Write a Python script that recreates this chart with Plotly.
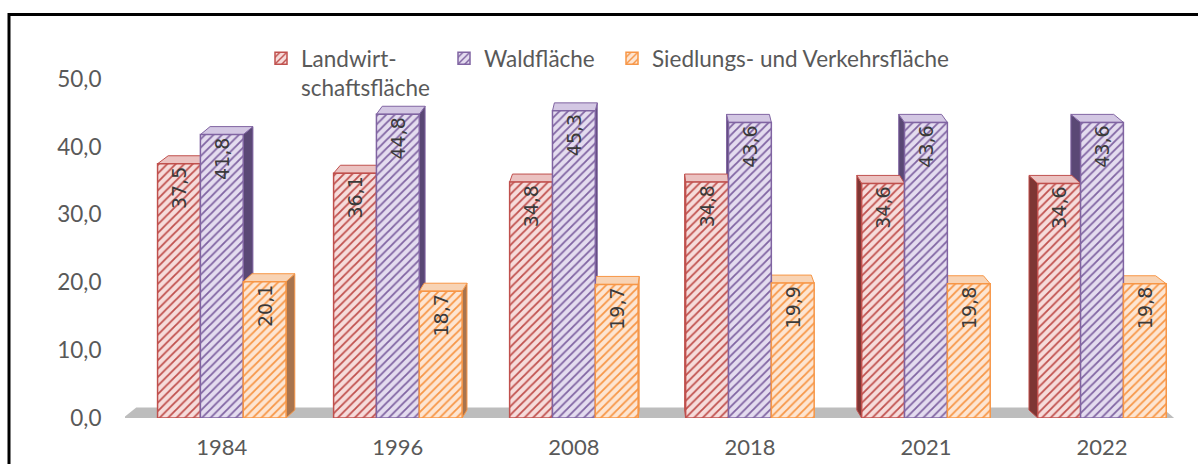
import plotly.graph_objects as go

years = ["1984", "1996", "2008", "2018", "2021", "2022"]
landwirt = [37.5, 36.1, 34.8, 34.8, 34.6, 34.6]
wald = [41.8, 44.8, 45.3, 43.6, 43.6, 43.6]
siedlung = [20.1, 18.7, 19.7, 19.9, 19.8, 19.8]
series_names = ["Landwirt-<br>schaftsfläche", "Waldfläche", "Siedlungs- und Verkehrsfläche"]
y_ticks = [0, 10, 20, 30, 40, 50]
y_ticktext = ["0,0", "10,0", "20,0", "30,0", "40,0", "50,0"]

colors = ["#C0504D", "#8064A2", "#F79646"]
tints = ["#F6DCDB", "#E4DCEF", "#FDE5D2"]
side_colors = ["#7E3634", "#5A4875", "#A8744E"]
top_colors = ["#EBC2C1", "#D3C7E3", "#F8D3B4"]

W, H = 1198, 464
L_M, R_M, T_M, B_M = 125, 8, 79, 46
X0, X1 = -0.55, 5.5
Y0, Y1 = 0, 50
pw = W - L_M - R_M
ph = H - T_M - B_M
px_per_x = pw / (X1 - X0)
px_per_y = ph / (Y1 - Y0)

bargap = 0.27
bw = (1 - bargap) / 3
center_px = L_M + ((0 + 5) / 2 - X0) * px_per_x
k = 0.022
dy = 8 / px_per_y


def to_px(x):
    return L_M + (x - X0) * px_per_x


def dx_for(x):
    return (center_px - to_px(x)) * k / px_per_x


def path(pts):
    return "M " + " L ".join(f"{a},{b}" for a, b in pts) + " Z"


fig = go.Figure()
all_vals = [landwirt, wald, siedlung]
xs = list(range(len(years)))
for i, (vals, name) in enumerate(zip(all_vals, series_names)):
    fig.add_trace(go.Bar(
        x=[x + (i - 1) * bw for x in xs], y=vals, name=name,
        width=bw,
        text=[f"{v:.1f}".replace(".", ",") for v in vals],
        textposition="inside", insidetextanchor="end", textangle=-90,
        insidetextfont=dict(family="DejaVu Sans", size=19, color="#3A3A3A"),
        marker=dict(color=tints[i], line=dict(color=colors[i], width=1.5),
                    pattern=dict(shape="/", fgcolor=colors[i], bgcolor=tints[i],
                                 size=6, solidity=0.3, fillmode="replace")),
        legend=["legend", "legend2", "legend3"][i],
        hoverinfo="skip",
    ))

shapes = []
# floor
fl, fr = -0.56, 5.41
shapes.append(dict(type="path", xref="x", yref="y", layer="below",
                   path=path([(fl, 0), (fr, 0), (fr + dx_for(fr) * 1.1, dy * 1.3),
                              (fl + dx_for(fl) * 1.1, dy * 1.3)]),
                   fillcolor="#BDBDBD", line=dict(width=0)))
sides, tops = [], []
for i, vals in enumerate(all_vals):
    for j, v in enumerate(vals):
        xc = j + (i - 1) * bw
        L, R = xc - bw / 2, xc + bw / 2
        d = dx_for(xc)
        e = R if d > 0 else L
        sides.append(dict(type="path", xref="x", yref="y", layer="below",
                          path=path([(e, 0), (e, v), (e + d, v + dy), (e + d, dy)]),
                          fillcolor=side_colors[i], line=dict(color=colors[i], width=1)))
        tops.append(dict(type="path", xref="x", yref="y", layer="below",
                         path=path([(L, v), (R, v), (R + d, v + dy), (L + d, v + dy)]),
                         fillcolor=top_colors[i], line=dict(color=colors[i], width=1)))
shapes += sides + tops
# outer frame
shapes.append(dict(type="rect", xref="paper", yref="paper",
                   x0=(9 - L_M) / pw, x1=(1210 - L_M) / pw,
                   y0=(H - B_M - 480) / ph, y1=(H - B_M - 14.5) / ph,
                   line=dict(color="black", width=3), fillcolor="rgba(0,0,0,0)"))

font_family = "Lato"
fsize = 22.5
leg_common = dict(orientation="h", yanchor="top", y=(H - B_M - 37) / ph,
                  xanchor="left", font=dict(family=font_family, size=fsize, color="#595959"),
                  bgcolor="rgba(0,0,0,0)", valign="top", itemclick=False)

fig.update_layout(
    width=W, height=H,
    margin=dict(l=L_M, r=R_M, t=T_M, b=B_M, autoexpand=False),
    paper_bgcolor="white", plot_bgcolor="white",
    barmode="overlay", bargap=bargap,
    shapes=shapes,
    showlegend=True,
    legend=dict(x=(261 - L_M) / pw, **leg_common),
    legend2=dict(x=(444 - L_M) / pw, **leg_common),
    legend3=dict(x=(612 - L_M) / pw, **leg_common),
    xaxis=dict(range=[X0, X1], tickvals=xs, ticktext=years, showgrid=False,
               zeroline=False, showline=False, ticks="outside", ticklen=10,
               tickcolor="rgba(0,0,0,0)", automargin=False,
               tickfont=dict(family=font_family, size=22, color="#595959")),
    yaxis=dict(range=[Y0, Y1], tickvals=y_ticks, ticktext=y_ticktext, showgrid=False,
               zeroline=False, showline=False, ticks="outside", ticklen=18,
               tickcolor="rgba(0,0,0,0)", automargin=False,
               tickfont=dict(family=font_family, size=fsize, color="#595959")),
)

fig.write_html("out.html", config={"displayModeBar": False},
               post_script="document.body.style.margin='0';")
